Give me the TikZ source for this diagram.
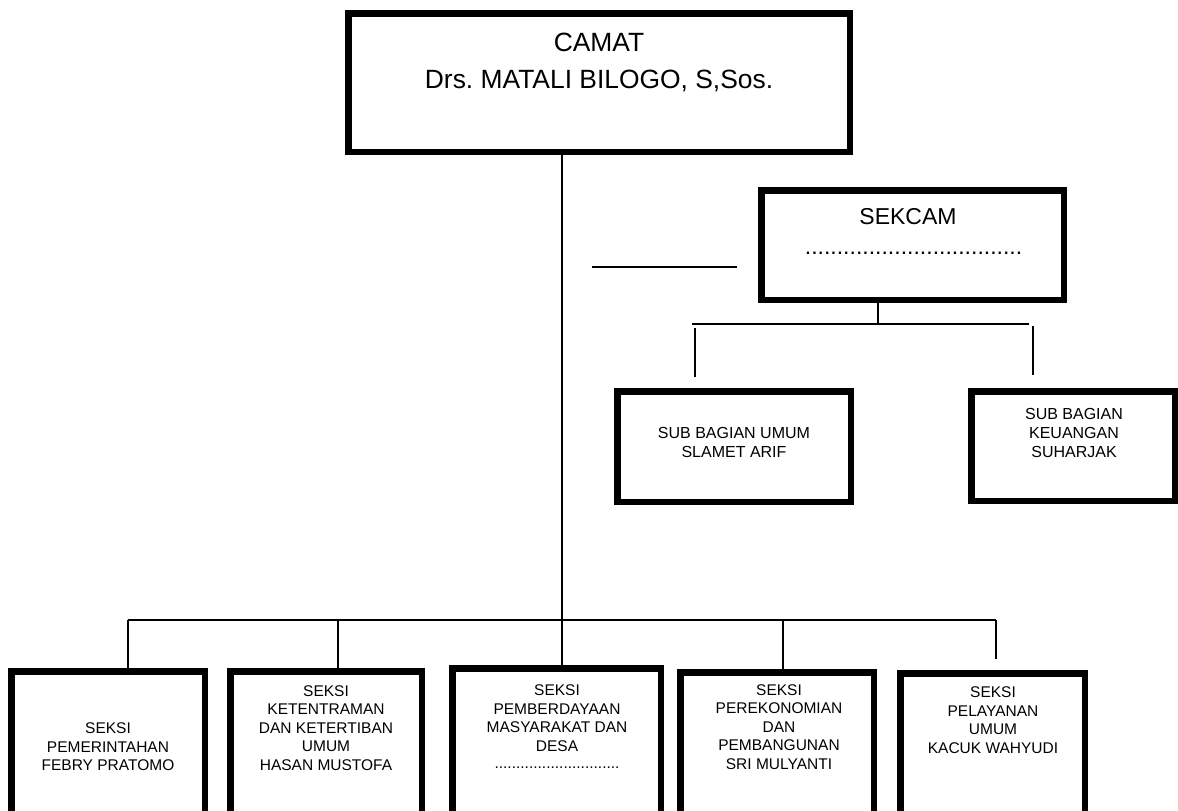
\documentclass[tikz,border=0pt]{standalone}
\usepackage{fontspec}
\setmainfont{Liberation Sans}
\usetikzlibrary{positioning}
\frenchspacing
\newcommand{\headfont}{\fontsize{26.4}{37}\selectfont}
\newcommand{\secfont}{\fontsize{23}{28}\selectfont}
\newcommand{\subfont}{\fontsize{16}{19}\selectfont}
\newcommand{\seksifont}{\fontsize{15.5}{18.5}\selectfont}

\begin{document}
\begin{tikzpicture}[x=1pt,y=-1pt,
    box/.style={draw,line width=6.5pt,fill=white,inner sep=0pt},
    conn/.style={line width=1.6pt},
    txt/.style={align=center,inner sep=0pt}]
    \clip (0,0) rectangle (1178,811);
    \fill[white] (0,0) rectangle (1178,811);

    % camat
    \node[box,minimum width=501.5pt,minimum height=138.5pt] (camat) at (599,82.5) {};
    \node[txt,font=\headfont] (camatlabel) at (599,62) {CAMAT\\Drs. MATALI BILOGO, S,Sos.};

    % sekcam
    \node[box,minimum width=302.5pt,minimum height=109.5pt] (sekcam) at (912.5,245) {};
    \node[txt,font=\secfont] (sekcamlabel) at (908,217) {SEKCAM};
    \node[txt,font=\secfont] (sekcamname) at (913.5,253) {..................................};
    \coordinate (stubL) at (592,267);
    \coordinate (stubR) at (737,267);
    \draw[conn] (stubL) -- (stubR);

    % sub bagian
    \node[box,minimum width=233.5pt,minimum height=110.5pt] (subumum) at (734,446.5) {};
    \node[box,minimum width=203.5pt,minimum height=109.5pt] (subkeu) at (1073,446) {};
    \node[txt,font=\subfont] (subumumlabel) at (734,442) {SUB BAGIAN UMUM\\SLAMET ARIF};
    \node[txt,font=\subfont] (subkeulabel) at (1074,433) {SUB BAGIAN\\KEUANGAN\\SUHARJAK};

    \coordinate (subbusL) at (692,324);
    \coordinate (subbusR) at (1029,324);
    \draw[conn] (sekcam.south -| 878,0) -- (878,324);
    \draw[conn] (subbusL) -- (subbusR);
    \draw[conn] (695,328) -- ([yshift=11pt]subumum.north -| 695,0);
    \draw[conn] (1033,326) -- ([yshift=13pt]subkeu.north -| 1033,0);

    % seksi
    \node[box,anchor=north,minimum width=193.5pt,minimum height=190pt] (seksi1) at (108,668.25) {};
    \node[box,anchor=north,minimum width=191.5pt,minimum height=190pt] (seksi2) at (326,668.25) {};
    \node[box,anchor=north,minimum width=208.5pt,minimum height=190pt] (seksi3) at (556.5,665.25) {};
    \node[box,anchor=north,minimum width=193.5pt,minimum height=190pt] (seksi4) at (777,669.25) {};
    \node[box,anchor=north,minimum width=184.5pt,minimum height=190pt] (seksi5) at (992.5,670.25) {};

    \node[txt,font=\seksifont] (seksi1label) at (108,747) {SEKSI\\PEMERINTAHAN\\FEBRY PRATOMO};
    \node[txt,font=\seksifont] (seksi2label) at (326,728) {SEKSI\\KETENTRAMAN\\DAN KETERTIBAN\\UMUM\\HASAN MUSTOFA};
    \node[txt,font=\seksifont] (seksi3label) at (557,718) {SEKSI\\PEMBERDAYAAN\\MASYARAKAT DAN\\DESA};
    \node[txt,font=\seksifont] (seksi3name) at (557,768) {.............................};
    \node[txt,font=\seksifont] (seksi4label) at (779,727) {SEKSI\\PEREKONOMIAN\\DAN\\PEMBANGUNAN\\SRI MULYANTI};
    \node[txt,font=\seksifont] (seksi5label) at (993,720) {SEKSI\\PELAYANAN\\UMUM\\KACUK WAHYUDI};

    \coordinate (busL) at (128,620);
    \coordinate (busR) at (996,620);
    \draw[conn] (camat.south -| 562,0) -- (busL -| 562,0);
    \draw[conn] (busL) -- (busR);
    \foreach \x/\to/\gap in {128/seksi1/0, 338/seksi2/0, 562/seksi3/0, 783/seksi4/0, 996/seksi5/11}
    \draw[conn] (\x,620) -- ([yshift=\gap pt]\to.north -| \x,0);
\end{tikzpicture}
\end{document}
